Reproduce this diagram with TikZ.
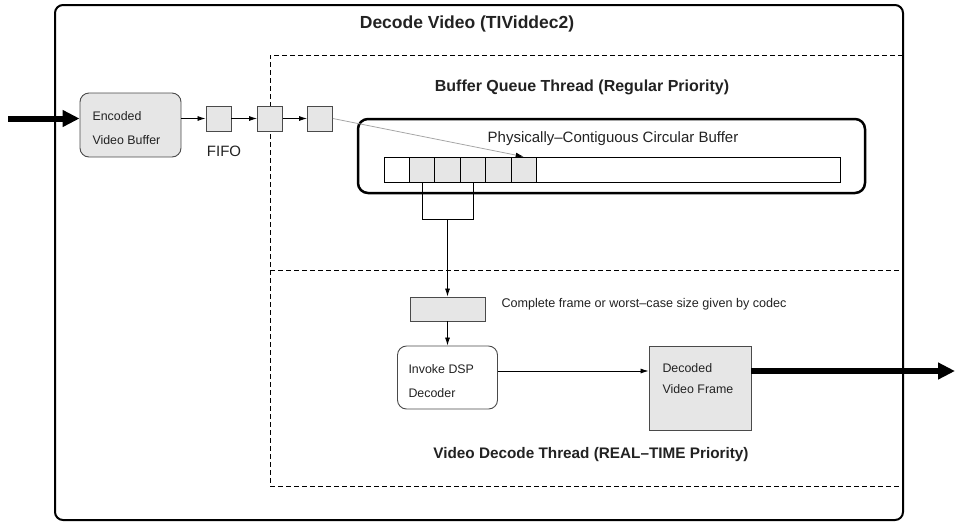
\documentclass[tikz,border=0pt]{standalone}
\usepackage{fontspec}
\setmainfont{Liberation Sans}
\usetikzlibrary{arrows.meta,positioning,calc}
\definecolor{boxgray}{HTML}{E6E6E6}
\definecolor{edgegray}{HTML}{4A4A4A}
\definecolor{txt}{HTML}{222222}
\begin{document}
\begin{tikzpicture}[x=1pt,y=-1pt,
  every node/.style={text=txt},
  graybox/.style={draw=edgegray,fill=boxgray,line width=0.9pt,inner sep=0pt},
  cellbox/.style={draw=black,line width=0.7pt,minimum width=25.4pt,minimum height=25pt,inner sep=0pt},
  thin arrow/.style={line width=0.8pt,-{Latex[length=8pt,width=5pt]}},
  feed arrow/.style={line width=0.8pt,draw=gray!70,arrows={-Latex[length=8pt,width=5pt,fill=black,color=black]}},
  thick arrow/.style={line width=6pt,-{Triangle[length=17pt,width=16pt]}},
  thread/.style={dash pattern=on 5pt off 3pt,line width=0.9pt},
  boldlabel/.style={font=\fontsize{16}{18}\selectfont\bfseries},
  smalltext/.style={font=\fontsize{12.4}{24}\selectfont}
]
\useasboundingbox (0,0) rectangle (955,523);

% outer component frame
\draw[line width=2pt,rounded corners=8pt] (55,5) rectangle (903,520);
\node[font=\fontsize{17.5}{20}\selectfont\bfseries] (title) at (467,24) {Decode Video (TIViddec2)};

% thread boundaries
\draw[thread] (903,55) -- (270,55) -- (270,486) -- (903,486);
\draw[thread] (270,270) -- (903,270);
\node[boldlabel] (bqt) at (582,87) {Buffer Queue Thread (Regular Priority)};
\node[boldlabel,font=\fontsize{15.3}{18}\selectfont\bfseries] (vdt) at (591,455) {Video Decode Thread (REAL–TIME Priority)};

% encoded input buffer and FIFO
\node[graybox,rounded corners=9pt,minimum width=101pt,minimum height=64pt] (enc) at (130.5,125) {};
\node[anchor=north west,align=left,smalltext] (encl) at (89,108) {Encoded\\Video Buffer};
\node[graybox,minimum width=25pt,minimum height=25pt] (f1) at (218.5,118.5) {};
\node[graybox,minimum width=25pt,minimum height=25pt] (f2) at (270,118.5) {};
\node[graybox,minimum width=25pt,minimum height=25pt] (f3) at (320,118.5) {};
\node[font=\fontsize{15}{17}\selectfont] (fifo) at (224,151) {FIFO};

\coordinate (in) at (8,118.5);
\draw[thick arrow] (in) -- ([yshift=6.5pt]enc.west);
\draw[thin arrow] ([yshift=6.5pt]enc.east) -- (f1.west);
\draw[thin arrow] (f1.east) -- (f2.west);
\draw[thin arrow] (f2.east) -- (f3.west);

% circular buffer
\node[draw=black,line width=2.5pt,rounded corners=10pt,minimum width=507pt,minimum height=74pt] (cb) at (611.5,156) {};
\node[font=\fontsize{15}{17}\selectfont] (cbl) at (613,139) {Physically–Contiguous Circular Buffer};
\node[draw=black,line width=0.7pt,minimum width=456pt,minimum height=25pt,inner sep=0pt] (strip) at (612,169.5) {};
\node[cellbox] (c1) at (396.7,169.5) {};
\foreach \i/\x in {2/422.1,3/447.5,4/472.9,5/498.3,6/523.7}
  \node[cellbox,fill=boxgray] (c\i) at (\x,169.5) {};

\draw[feed arrow] (f3.east) -- (c6.north);

% frame extraction
\draw[line width=0.8pt] (c2.south) -- ++(0,37) coordinate (bl) -| (c4.south);
\coordinate (bm) at ($(bl)!0.5!(bl -| c4.south)$);
\node[graybox,minimum width=75pt,minimum height=24pt] (frame) at (447.5,309) {};
\node[anchor=west,font=\fontsize{12.6}{14}\selectfont] (note) at (498,304) {Complete frame or worst–case size given by codec};
\draw[thin arrow] (bm) -- (frame.north);

% decoder and output
\node[draw=edgegray,fill=white,line width=0.9pt,rounded corners=9pt,minimum width=100pt,minimum height=63pt] (inv) at (447.5,377.5) {};
\node[anchor=north west,align=left,smalltext] (invl) at (405,361) {Invoke DSP\\Decoder};
\draw[thin arrow] (frame.south) -- (inv.north);
\node[graybox,minimum width=102pt,minimum height=84pt] (dec) at (700,388) {};
\node[anchor=north west,align=left,font=\fontsize{12.4}{21}\selectfont] (decl) at (659,360) {Decoded\\Video Frame};
\draw[thin arrow] ([yshift=6.5pt]inv.east) -- ([yshift=6.5pt]inv.east -| dec.west);
\coordinate (out) at (955,371);
\draw[thick arrow] ([yshift=17pt]dec.east) -- (out);
\end{tikzpicture}
\end{document}
